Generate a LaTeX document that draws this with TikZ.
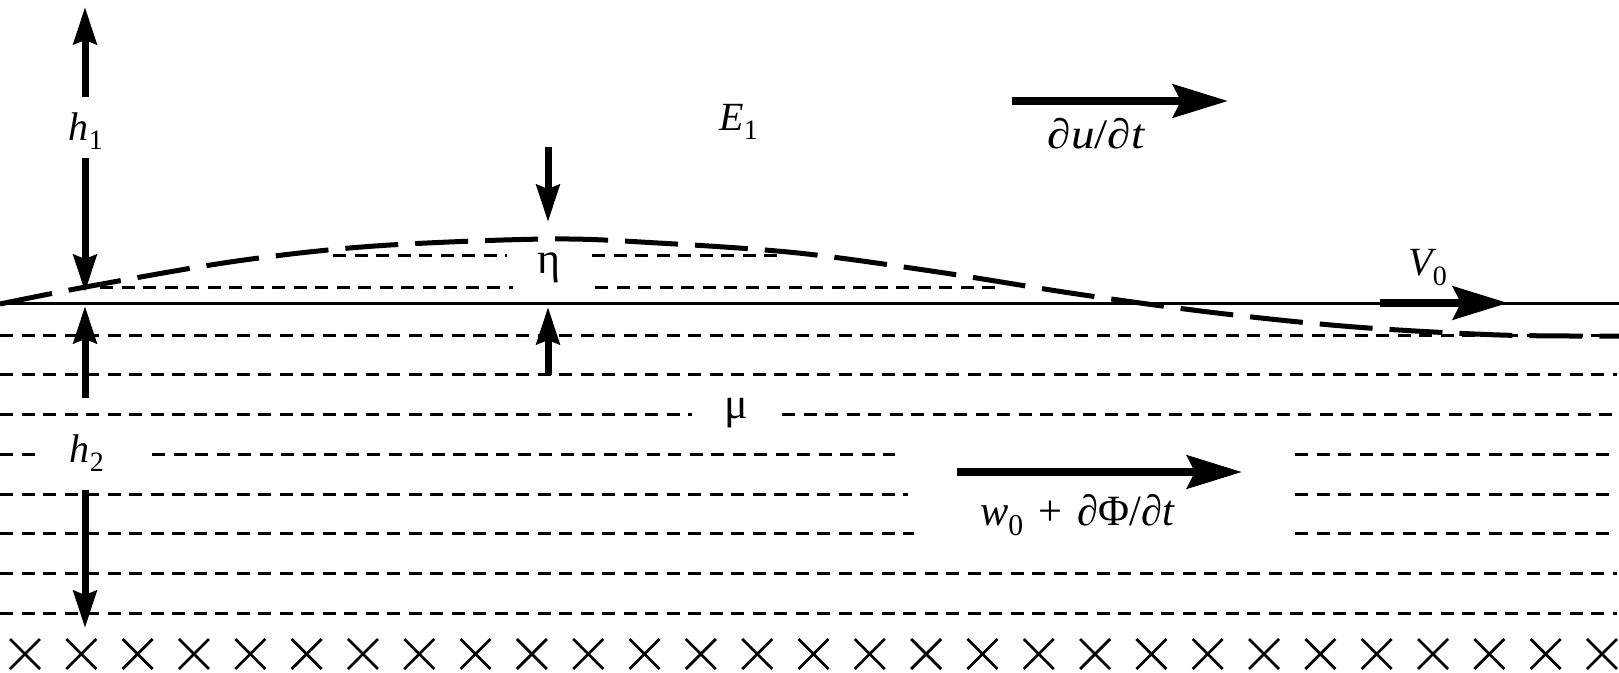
\documentclass[tikz,border=0pt]{standalone}
\usepackage{fontspec}
\setmainfont{Liberation Serif}
\usetikzlibrary{arrows.meta}
\tikzset{
  layer/.style={line width=3pt, dash pattern=on 13pt off 8.5pt},
  surface/.style={line width=3pt},
  wavecurve/.style={line width=5pt, dash pattern=on 53pt off 17pt},
  varrow/.style={line width=7pt, -{Stealth[length=37pt,width=23pt,inset=4pt]}},
  harrow/.style={line width=8pt, -{Stealth[length=55pt,width=33pt,inset=8pt]}},
  lbl/.style={anchor=base, inner sep=0pt, font=\fontsize{40}{48}\selectfont},
  xmark/.style={line width=2.7pt}
}
\begin{document}
\begin{tikzpicture}[x=1pt,y=-1pt]
\useasboundingbox (0,0) rectangle (1619,672);
% solid surface
\draw[surface] (0,303) -- (1619,303);
% upper dashed layers (under the hump)
\draw[layer] (333,255) -- (507,255);
\draw[layer] (592,255) -- (777,255);
\draw[layer] (100,287) -- (513,287);
\draw[layer] (595,287) -- (1000,287);
% lower dashed layers
\draw[layer] (0,335) -- (1617,335);
\draw[layer] (0,374) -- (1617,374);
\draw[layer] (0,414) -- (692,414);
\draw[layer] (782,414) -- (1617,414);
\draw[layer] (0,454) -- (38,454);
\draw[layer] (152,454) -- (895,454);
\draw[layer] (1295,454) -- (1617,454);
\draw[layer] (0,494) -- (908,494);
\draw[layer] (1295,494) -- (1617,494);
\draw[layer] (0,533) -- (914,533);
\draw[layer] (1295,533) -- (1617,533);
\draw[layer] (0,573) -- (1617,573);
\draw[layer] (0,613) -- (1617,613);
% wave
\draw[wavecurve] plot[smooth, tension=0.55] coordinates {(0,304) (91,286) (237,261) (375,246) (548,239) (658,243) (798,253) (938,272) (1077,294) (1217,313) (1355,327) (1500,335) (1619,336)};
% crosses
\foreach \i in {0,...,28}{
  \pgfmathsetmacro{\cx}{25+56.32*\i}
  \draw[xmark] (\cx-15,639) -- (\cx+15,669) (\cx-15,669) -- (\cx+15,639);
}
% coordinates for arrows
\coordinate (hOneUpA) at (85,97);
\coordinate (hOneUpB) at (85,7);
\coordinate (hOneDnA) at (85,158);
\coordinate (hOneDnB) at (85,292);
\coordinate (hTwoUpA) at (85,398);
\coordinate (hTwoUpB) at (85,306);
\coordinate (hTwoDnA) at (85,490);
\coordinate (hTwoDnB) at (85,628);
\coordinate (etaDnA) at (548,147);
\coordinate (etaDnB) at (548,222);
\coordinate (etaUpA) at (548,375);
\coordinate (etaUpB) at (548,307);
\coordinate (duA) at (1012,101);
\coordinate (duB) at (1228,101);
\coordinate (vA) at (1380,303);
\coordinate (vB) at (1508,303);
\coordinate (wA) at (957,472);
\coordinate (wB) at (1242,472);
\draw[varrow] (hOneUpA) -- (hOneUpB);
\draw[varrow] (hOneDnA) -- (hOneDnB);
\draw[varrow] (hTwoUpA) -- (hTwoUpB);
\draw[varrow] (hTwoDnA) -- (hTwoDnB);
\draw[varrow] (etaDnA) -- (etaDnB);
\draw[varrow] (etaUpA) -- (etaUpB);
\draw[harrow] (duA) -- (duB);
\draw[harrow] (vA) -- (vB);
\draw[harrow] (wA) -- (wB);
% labels
\node[lbl] (hone) at (86,140) {\itshape h\textsubscript{\upshape 1}};
\node[lbl] (htwo) at (87,462) {\itshape h\textsubscript{\upshape 2}};
\node[lbl] (eone) at (739,130) {\itshape E\textsubscript{\upshape 1}};
\node[lbl, font=\fontsize{44}{50}\selectfont] (eta) at (549,273) {η};
\node[lbl, font=\fontsize{44}{50}\selectfont] (mu) at (736,418) {μ};
\node[lbl] (dudt) at (1096,148) {\scalebox{1.18}[1.05]{{\itshape ∂u}/{\itshape ∂t}}};
\node[lbl] (vzero) at (1428,275) {\itshape V\textsubscript{\upshape 0}};
\node[lbl] (wzero) at (1077,525) {\scalebox{1.06}[1.08]{{\itshape w}\textsubscript{0}\hspace{14pt}+\hspace{14pt}{\itshape ∂}Φ/{\itshape ∂t}}};
\end{tikzpicture}
\end{document}
